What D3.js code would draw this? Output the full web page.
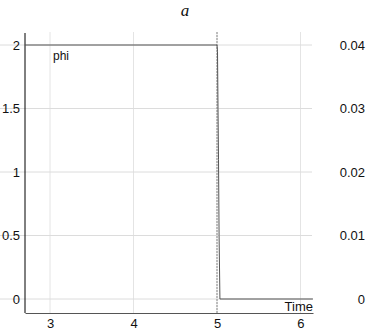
<!DOCTYPE html>
<html>
<head>
<meta charset="utf-8">
<script src="https://cdn.jsdelivr.net/npm/d3@7"></script>
<style>
  body { margin: 0; background: #fff; }
  svg { display: block; font-family: "Liberation Sans", Arial, sans-serif; }
</style>
</head>
<body>
<div id="chart"></div>
<script>
// phi over time
const timeVals = [2.7, 5.0, 5.006, 5.012, 5.018, 5.025, 5.035, 6.15];
const phiVals  = [2, 2, 1.95, 1.5, 1.1, 0.5, 0, 0];
const xTicks = [3, 4, 5, 6];
const yTicks = [0, 0.5, 1, 1.5, 2];
const y2Ticks = [0, 0.01, 0.02, 0.03, 0.04];
const eventTime = 5.0;

const width = 370, height = 330;
const svg = d3.select("#chart").append("svg")
  .attr("width", width).attr("height", height);

const x = d3.scaleLinear().domain([2.7, 6.15]).range([25, 313]);
const y = d3.scaleLinear().domain([0, 2]).range([299, 45]);
const y2 = d3.scaleLinear().domain([0, 0.04]).range([299, 45]);

// grid
svg.append("g").selectAll("line").data(xTicks).join("line")
  .attr("x1", d => x(d)).attr("x2", d => x(d))
  .attr("y1", 32).attr("y2", 313)
  .attr("stroke", "#e4e4e4");
svg.append("g").selectAll("line").data(yTicks).join("line")
  .attr("x1", 0).attr("x2", 312)
  .attr("y1", d => y(d)).attr("y2", d => y(d))
  .attr("stroke", "#dcdcdc");

// axes
const xAxis = svg.append("g").attr("transform", "translate(0,313)")
  .call(d3.axisBottom(x).tickValues(xTicks).tickSize(0).tickPadding(6).tickFormat(d3.format("d")));
xAxis.select(".domain").attr("stroke", "#555");
xAxis.selectAll("text").attr("font-size", 13).attr("fill", "#111");

const yAxis = svg.append("g").attr("transform", "translate(25,0)")
  .call(d3.axisLeft(y).tickValues(yTicks).tickSize(0).tickPadding(5).tickFormat(d => d));
yAxis.select(".domain").attr("d", "M0,33V313").attr("stroke", "#000");
yAxis.selectAll("text").attr("font-size", 13).attr("fill", "#111");

const y2Axis = svg.append("g").attr("transform", "translate(365,0)")
  .call(d3.axisLeft(y2).tickValues(y2Ticks).tickSize(0).tickPadding(0).tickFormat(d => d));
y2Axis.select(".domain").remove();
y2Axis.selectAll("text").attr("font-size", 13).attr("fill", "#111");

// event marker
svg.append("line")
  .attr("x1", x(eventTime)).attr("x2", x(eventTime))
  .attr("y1", 32).attr("y2", 313)
  .attr("stroke", "#888").attr("stroke-dasharray", "2,1");

// data line
const line = d3.line().x(d => x(d[0])).y(d => y(d[1]));
svg.append("path")
  .datum(d3.zip(timeVals, phiVals))
  .attr("d", line)
  .attr("fill", "none")
  .attr("stroke", "#555")
  .attr("stroke-width", 1);

// labels
svg.append("text").attr("x", 53).attr("y", 60)
  .attr("font-size", 12).attr("fill", "#111").text("phi");
svg.append("text").attr("x", 313).attr("y", 311).attr("text-anchor", "end")
  .attr("font-size", 13).attr("fill", "#111").text("Time");
svg.append("text").attr("x", 185).attr("y", 16).attr("text-anchor", "middle")
  .attr("font-family", "Liberation Serif, serif").attr("font-style", "italic")
  .attr("font-size", 17).attr("fill", "#111").text("a");
</script>
</body>
</html>
